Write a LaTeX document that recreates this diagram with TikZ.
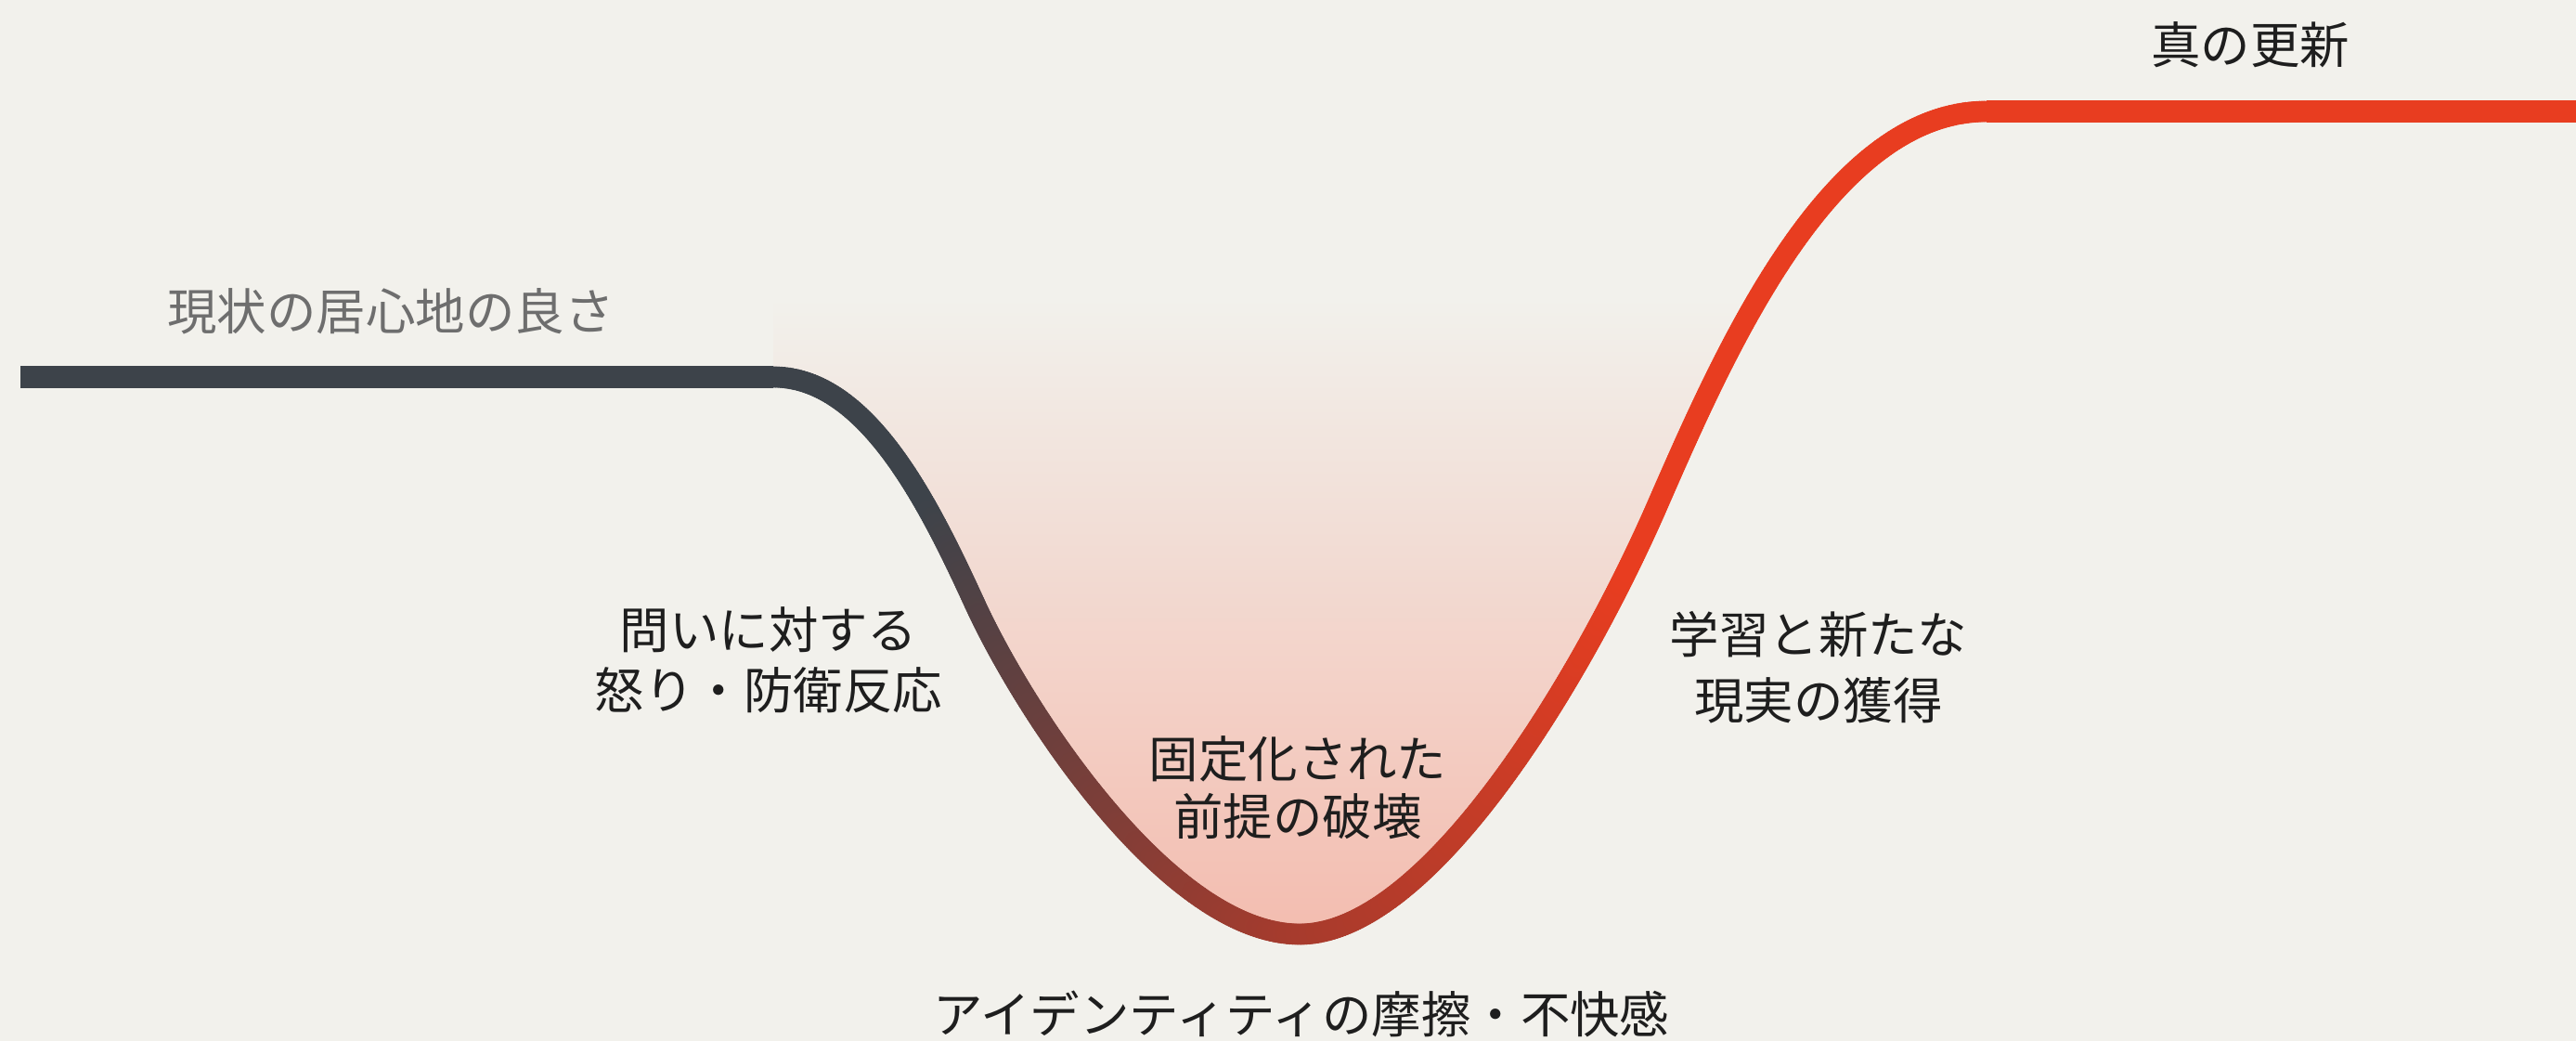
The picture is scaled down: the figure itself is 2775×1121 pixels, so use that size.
\documentclass[tikz,border=0pt]{standalone}
\usepackage{fontspec}
\newfontfamily\jpfont{Noto Sans CJK JP}
\usetikzlibrary{decorations.markings}
\definecolor{bgc}{HTML}{F2F1EC}
\definecolor{cdark}{HTML}{3D434A}
\definecolor{cbrown}{HTML}{A63B2D}
\definecolor{cred}{HTML}{E83D20}
\definecolor{pinkmid}{HTML}{F4E2DB}
\definecolor{pinkbot}{HTML}{F3BCAF}
\definecolor{txt}{HTML}{1E1E1E}
\definecolor{txtgray}{HTML}{6E6E6E}
\newcommand\cvmark{%
  \pgfmathsetmacro\cvf{\pgfkeysvalueof{/pgf/decoration/mark info/distance from start}/\pgfdecoratedpathlength}%
  \pgfmathsetmacro\cva{max(0,min(100,(\cvf-0.11)*100/0.304))}%
  \pgfmathsetmacro\cvb{max(0,min(100,(\cvf-0.414)*100/0.266))}%
  \ifdim\cvf pt<0.414pt\relax
    \fill[cbrown!\cva!cdark] (0,0) circle (0.115cm);
  \else
    \fill[cred!\cvb!cbrown] (0,0) circle (0.115cm);
  \fi}
\begin{document}
\begin{tikzpicture}[x=0.01cm,y=-0.01cm,
  lbl/.style={font=\jpfont\fontsize{15.2}{#1}\selectfont, text=txt, inner sep=0pt, align=center},
  lbl/.default=18.5pt,
  flatline/.style={line width=0.23cm},
  curvemarks/.style={decoration={markings, mark=between positions 0 and 1 step 0.8pt with {\cvmark}}, decorate}]
\fill[bgc] (0,0) rectangle (2775,1121);
\useasboundingbox (0,0) rectangle (2775,1121);
% key points of the curve
\coordinate (L0) at (22,406);
\coordinate (L1) at (833,406);
\coordinate (I1) at (1050,650);
\coordinate (B) at (1400,1006);
\coordinate (I2) at (1785,545);
\coordinate (R0) at (2140,120);
\coordinate (R1) at (2775,120);
% pink fill in the trough
\begin{scope}
  \clip (L1) .. controls (933,406) and (1000,541) .. (I1)
        .. controls (1104,768) and (1260,1006) .. (B)
        .. controls (1540,1006) and (1705,728) .. (I2)
        .. controls (1857,380) and (1970,120) .. (R0)
        -- (833,120) -- cycle;
  \shade[top color=bgc, middle color=pinkmid, bottom color=pinkbot] (800,320) rectangle (2200,1012);
\end{scope}
% flat parts
\draw[flatline, cdark] (L0) -- (L1);
\draw[flatline, cred] (R0) -- (R1);
% graded curve
\path[curvemarks] (L1) .. controls (933,406) and (1000,541) .. (I1)
        .. controls (1104,768) and (1260,1006) .. (B)
        .. controls (1540,1006) and (1705,728) .. (I2)
        .. controls (1857,380) and (1970,120) .. (R0);
% labels
\node[lbl, text=txtgray] (comfort) at (421,335) {現状の居心地の良さ};
\node[lbl] (renewal) at (2424,48) {真の更新};
\node[lbl=18.5pt] (anger) at (828,711) {問いに対する\\怒り・防衛反応};
\node[lbl=17.6pt] (collapse) at (1398,848) {固定化された\\前提の破壊};
\node[lbl=20.2pt] (learn) at (1959,719) {学習と新たな\\現実の獲得};
\node[lbl] (friction) at (1402,1092) {アイデンティティの摩擦・不快感};
\end{tikzpicture}
\end{document}
